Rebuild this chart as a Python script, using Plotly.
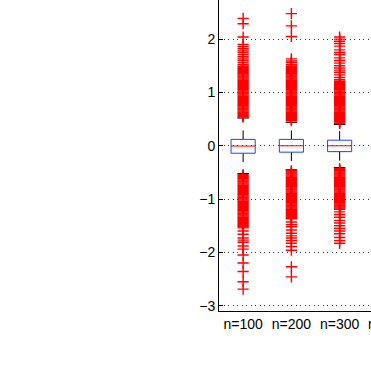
import plotly.graph_objects as go

categories = ["n=100", "n=200", "n=300", "n=400"]

q1 = [-0.14, -0.12, -0.11]
median = [-0.005, 0.0, 0.0]
q3 = [0.12, 0.12, 0.105]
whisker_low = [-0.52, -0.45, -0.41]
whisker_high = [0.52, 0.44, 0.40]

outliers_100 = [
    2.39, 2.29, 2.04, 1.90, 1.86, 1.82, 1.78, 1.75, 1.71, 1.67, 1.63, 1.60, 1.56, 1.52,
    1.49, 1.47, 1.45, 1.43, 1.41, 1.39, 1.37, 1.35, 1.33, 1.31, 1.29, 1.27, 1.25, 1.23,
    1.21, 1.19, 1.17, 1.15, 1.13, 1.11, 1.09, 1.07, 1.05, 1.03, 1.01, 0.99, 0.97, 0.95,
    0.93, 0.91, 0.89, 0.87, 0.85, 0.83, 0.81, 0.79, 0.77, 0.75, 0.73, 0.71, 0.69, 0.67,
    0.65, 0.63, 0.61, 0.59, 0.57, 0.55, 0.54,
    -0.54, -0.56, -0.58, -0.60, -0.62, -0.64, -0.66, -0.68, -0.70, -0.72, -0.74, -0.76,
    -0.78, -0.80, -0.82, -0.84, -0.86, -0.88, -0.90, -0.92, -0.94, -0.96, -0.98, -1.00,
    -1.02, -1.04, -1.06, -1.08, -1.10, -1.12, -1.14, -1.16, -1.18, -1.20, -1.22, -1.24,
    -1.26, -1.28, -1.30, -1.32, -1.34, -1.36, -1.38, -1.40, -1.42, -1.44, -1.46, -1.48,
    -1.50, -1.52, -1.54,
    -1.60, -1.66, -1.73, -1.77, -1.81, -1.88, -1.94, -2.05, -2.20, -2.36, -2.55, -2.69,
]
outliers_200 = [
    2.48, 2.25, 2.05, 1.63, 1.59, 1.56, 1.52,
    1.49, 1.47, 1.45, 1.43, 1.41, 1.39, 1.37, 1.35, 1.33, 1.31, 1.29, 1.27, 1.25, 1.23,
    1.21, 1.19, 1.17, 1.15, 1.13, 1.11, 1.09, 1.07, 1.05, 1.03, 1.01, 0.99, 0.97, 0.95,
    0.93, 0.91, 0.89, 0.87, 0.85, 0.83, 0.81, 0.79, 0.77, 0.75, 0.73, 0.71, 0.69, 0.67,
    0.65, 0.63, 0.61, 0.59, 0.57, 0.55, 0.53, 0.51, 0.49, 0.47,
    -0.47, -0.49, -0.51, -0.53, -0.55, -0.57, -0.59, -0.61, -0.63, -0.65, -0.67, -0.69,
    -0.71, -0.73, -0.75, -0.77, -0.79, -0.81, -0.83, -0.85, -0.87, -0.89, -0.91, -0.93,
    -0.95, -0.97, -0.99, -1.01, -1.03, -1.05, -1.07, -1.09, -1.11, -1.13, -1.15, -1.17,
    -1.19, -1.21, -1.23, -1.25, -1.27, -1.29, -1.31, -1.33, -1.35, -1.37,
    -1.43, -1.48, -1.52, -1.58, -1.64, -1.69, -1.73, -1.78, -1.83, -1.89, -1.96, -2.27, -2.46,
]
outliers_300 = [
    2.04, 2.00, 1.96, 1.92, 1.87, 1.80, 1.75, 1.71, 1.65, 1.60, 1.55, 1.50, 1.46, 1.42,
    1.38, 1.33, 1.28, 1.24,
    1.21, 1.19, 1.17, 1.15, 1.13, 1.11, 1.09, 1.07, 1.05, 1.03, 1.01, 0.99, 0.97, 0.95,
    0.93, 0.91, 0.89, 0.87, 0.85, 0.83, 0.81, 0.79, 0.77, 0.75, 0.73, 0.71, 0.69, 0.67,
    0.65, 0.63, 0.61, 0.59, 0.57, 0.55, 0.53, 0.51, 0.49, 0.47, 0.45, 0.43, 0.42,
    -0.43, -0.45, -0.47, -0.49, -0.51, -0.53, -0.55, -0.57, -0.59, -0.61, -0.63, -0.65,
    -0.67, -0.69, -0.71, -0.73, -0.75, -0.77, -0.79, -0.81, -0.83, -0.85, -0.87, -0.89,
    -0.91, -0.93, -0.95, -0.97, -0.99, -1.01, -1.03, -1.05, -1.07, -1.09, -1.11, -1.13,
    -1.15, -1.17, -1.19,
    -1.24, -1.29, -1.34, -1.40, -1.45, -1.50, -1.55, -1.60, -1.65, -1.72, -1.78, -1.83,
]
outliers = [outliers_100, outliers_200, outliers_300]

BOX_HALF = 0.25
CAP_HALF = 0.12
FONT = "Liberation Sans, Arial, Helvetica, sans-serif"
X_RANGE = [0.5, 3.65]

fig = go.Figure()

for i in range(3):
    x = i + 1
    # whiskers (dashed black) and caps
    fig.add_trace(go.Scatter(x=[x, x], y=[q3[i], whisker_high[i]], mode="lines",
                             line=dict(color="black", width=1, dash="dash"), hoverinfo="skip"))
    fig.add_trace(go.Scatter(x=[x, x], y=[q1[i], whisker_low[i]], mode="lines",
                             line=dict(color="black", width=1, dash="dash"), hoverinfo="skip"))
    fig.add_trace(go.Scatter(x=[x - CAP_HALF, x + CAP_HALF], y=[whisker_high[i]] * 2, mode="lines",
                             line=dict(color="black", width=1), hoverinfo="skip"))
    fig.add_trace(go.Scatter(x=[x - CAP_HALF, x + CAP_HALF], y=[whisker_low[i]] * 2, mode="lines",
                             line=dict(color="black", width=1), hoverinfo="skip"))
    # outliers
    fig.add_trace(go.Scatter(x=[x] * len(outliers[i]), y=outliers[i], mode="markers",
                             marker=dict(symbol="cross-thin", size=8, color="red",
                                         line=dict(color="red", width=1.4)), hoverinfo="skip"))
    # box
    fig.add_trace(go.Scatter(x=[x - BOX_HALF, x + BOX_HALF, x + BOX_HALF, x - BOX_HALF, x - BOX_HALF],
                             y=[q1[i], q1[i], q3[i], q3[i], q1[i]], mode="lines",
                             line=dict(color="#2244ee", width=1), hoverinfo="skip"))
    # median
    fig.add_trace(go.Scatter(x=[x - BOX_HALF, x + BOX_HALF], y=[median[i]] * 2, mode="lines",
                             line=dict(color="red", width=1), hoverinfo="skip"))

fig.update_layout(
    width=371, height=371,
    margin=dict(l=219, r=0, t=0, b=60),
    plot_bgcolor="white", paper_bgcolor="white",
    showlegend=False,
    font=dict(family=FONT, size=14, color="black"),
)
fig.update_xaxes(
    range=X_RANGE, tickvals=[1, 2, 3], ticktext=categories[:3],
    showgrid=False, zeroline=False, showline=True, linecolor="black", linewidth=1,
    ticks="",
)
fig.update_yaxes(
    range=[-3.10, 2.735], tickvals=[-3, -2, -1, 0, 1, 2],
    showgrid=True, gridcolor="#333333", griddash="1px,3.5px", gridwidth=1,
    zeroline=False, showline=True, linecolor="black", linewidth=1,
    ticks="inside", ticklen=4, tickcolor="black",
)
# label of the 4th category, whose position lies just past the visible axis range
x4_paper = (4 - X_RANGE[0]) / (X_RANGE[1] - X_RANGE[0])
fig.add_annotation(x=x4_paper, xref="paper", y=0, yref="paper", yanchor="top", xanchor="center",
                   showarrow=False, text=categories[3],
                   font=dict(family=FONT, size=14, color="black"), yshift=-3)

fig.write_html("out.html", config={"displayModeBar": False},
               post_script="document.body.style.margin='0px';")
